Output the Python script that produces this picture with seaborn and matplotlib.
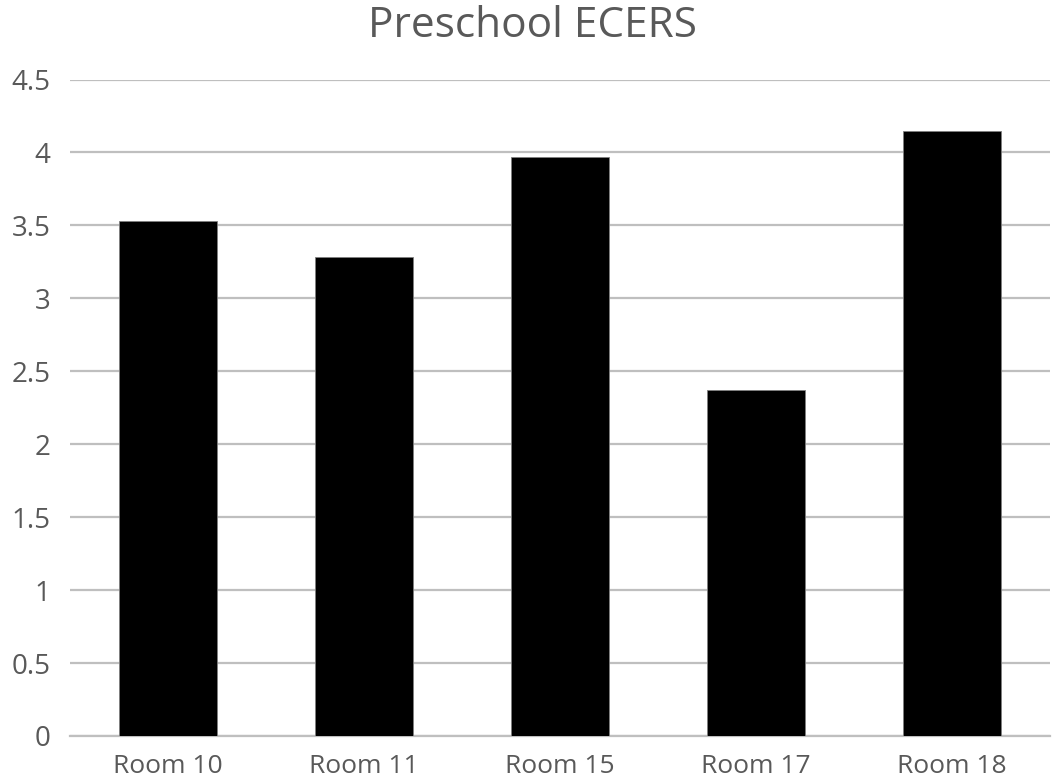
import matplotlib
matplotlib.use("Agg")
import matplotlib.pyplot as plt
import pandas as pd
import seaborn as sns

# Chart data
rooms = ["Room 10", "Room 11", "Room 15", "Room 17", "Room 18"]
scores = [3.53, 3.28, 3.97, 2.37, 4.15]
y_ticks = [0, 0.5, 1, 1.5, 2, 2.5, 3, 3.5, 4, 4.5]
y_tick_labels = ["0", "0.5", "1", "1.5", "2", "2.5", "3", "3.5", "4", "4.5"]

df = pd.DataFrame({"Room": rooms, "Score": scores})

sns.set_theme(style="white")
plt.rcParams["font.family"] = ["Open Sans", "DejaVu Sans"]

text_color = "#595959"
grid_color = "#BFBFBF"

fig = plt.figure(figsize=(10.55, 7.84), dpi=100)
ax = fig.add_axes([70 / 1055, 48 / 784, 980 / 1055, 656.5 / 784])

sns.barplot(data=df, x="Room", y="Score", color="black", width=0.5,
            saturation=1, edgecolor="#808080", linewidth=0.6, ax=ax, zorder=3)

ax.set_ylim(0, 4.5)
ax.set_xlim(-0.5, len(rooms) - 0.5)
ax.set_yticks(y_ticks)
ax.set_yticklabels(y_tick_labels)
ax.yaxis.grid(True, color=grid_color, linewidth=1.6, zorder=0)
ax.set_axisbelow(True)

for s in ["top", "right", "left"]:
    ax.spines[s].set_visible(False)
ax.spines["bottom"].set_color(grid_color)
ax.spines["bottom"].set_linewidth(1.6)

ax.tick_params(axis="y", length=0, pad=14, labelsize=20, labelcolor=text_color)
ax.tick_params(axis="x", length=0, pad=13, labelsize=19, labelcolor=text_color)
ax.set_xlabel("")
ax.set_ylabel("")

fig.text(533 / 1055, 1 - 26 / 784, "Preschool ECERS", ha="center", va="center",
         fontsize=30.5, color=text_color)

fig.savefig("out.png", dpi=100)
